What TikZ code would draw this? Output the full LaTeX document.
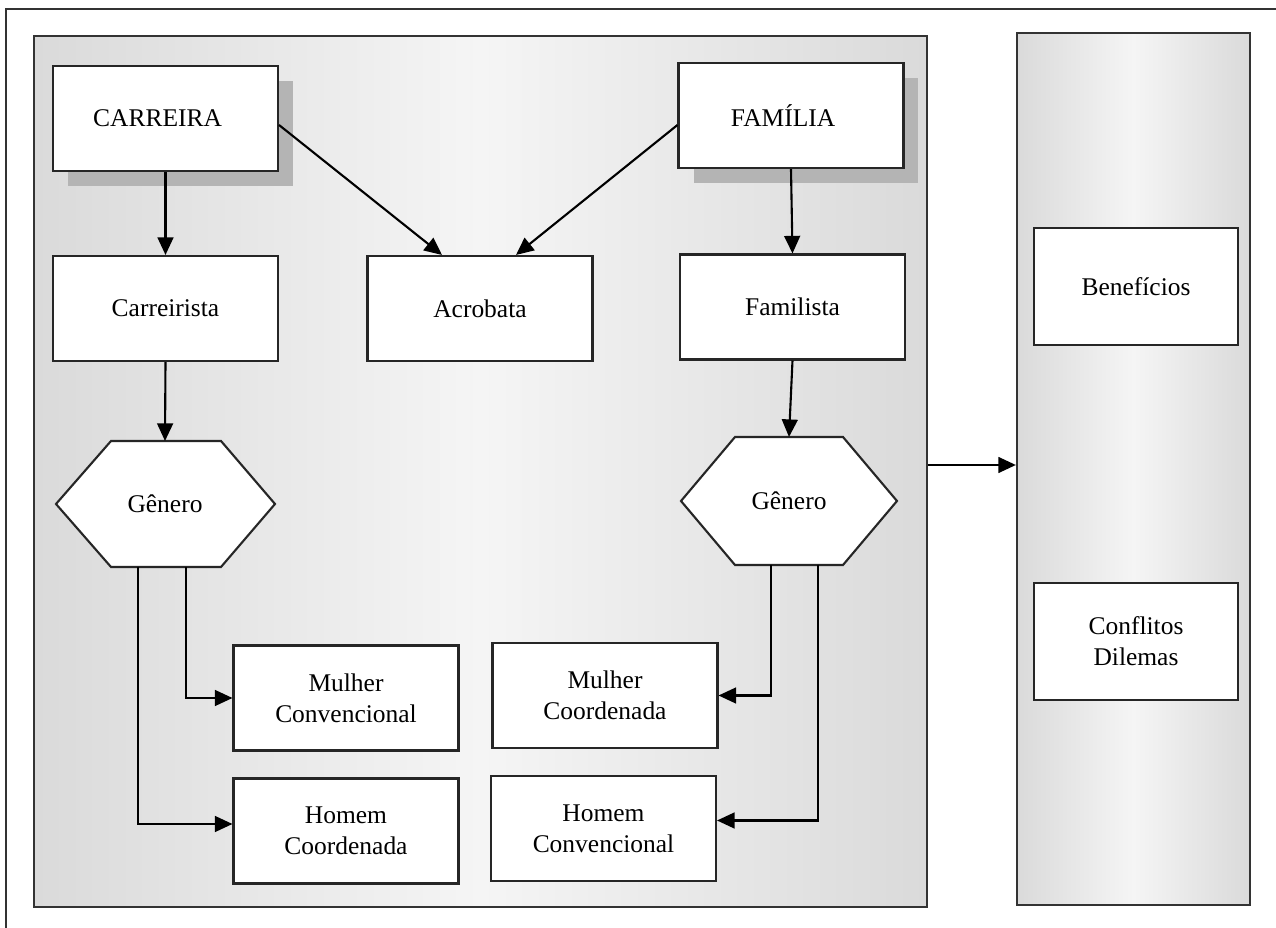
\documentclass[tikz,border=0pt]{standalone}
\usepackage{fontspec}
\setmainfont{Liberation Serif}
\usetikzlibrary{arrows.meta,shadows,calc}
\definecolor{edgegray}{HTML}{DADADA}
\definecolor{midgray}{HTML}{F5F5F5}
\definecolor{shadowgray}{HTML}{B4B4B4}
\definecolor{framegray}{HTML}{333333}
\tikzset{
  box/.style={draw=black!85, line width=1.2pt, fill=white, minimum width=4.5cm, minimum height=2.1cm, align=center, inner sep=2pt, font=\fontsize{14.5}{17.5}\selectfont},
  shbox/.style={box, general shadow={fill=shadowgray, shadow xshift=0.3cm, shadow yshift=-0.3cm}},
  panel/.style={draw=black!80, line width=1.3pt, left color=edgegray, right color=edgegray, middle color=midgray},
  hex/.style={draw=black!85, line width=1.2pt, fill=white},
  lbl/.style={font=\fontsize{14.5}{17.5}\selectfont, inner sep=1pt},
  arr/.style={line width=1.2pt, -{Triangle[length=10pt,width=9pt]}},
}
\begin{document}
\begin{tikzpicture}[x=0.02cm,y=-0.02cm]
\useasboundingbox (0,0) rectangle (1276,928);
\fill[white] (0,0) rectangle (1276,928);
% outer frame (top and left only)
\draw[framegray, line width=1pt] (1276,9) -- (6,9) -- (6,928);
% panels
\node[panel, minimum width=17.86cm, minimum height=17.42cm] (main) at (480.5,471.5) {};
\node[panel, minimum width=4.66cm, minimum height=17.44cm] (side) at (1133.5,469) {};
% top boxes
\node[shbox] (carreira) at (165.5,118.5) {CARREIRA\hspace*{9pt}};
\node[shbox] (familia) at (791,115.5) {FAMÍLIA\hspace*{9pt}};
% second row
\node[box] (carreirista) at (165.5,308.5) {Carreirista};
\node[box] (acrobata) at (480,308.5) {Acrobata};
\node[box] (familista) at (792.5,307) {Familista};
% hexagons
\path[hex] (56,504) -- (111,441) -- (221,441) -- (275,504) -- (221,567) -- (111,567) -- cycle;
\node[lbl] (gen1) at (165,504) {Gênero};
\coordinate (gen1t) at (165,441);
\coordinate (gen1a) at (138,567);
\coordinate (gen1b) at (186,567);
\path[hex] (681,501) -- (735,437) -- (843,437) -- (897,501) -- (843,565) -- (735,565) -- cycle;
\node[lbl] (gen2) at (789,501) {Gênero};
\coordinate (gen2t) at (789,437);
\coordinate (gen2a) at (771,565);
\coordinate (gen2b) at (818,565);
% bottom boxes
\node[box] (mconv) at (346,698) {Mulher\\Convencional};
\node[box] (hcoord) at (346,831) {Homem\\Coordenada};
\node[box] (mcoord) at (605,695.5) {Mulher\\Coordenada};
\node[box] (hconv) at (603.5,828.5) {Homem\\Convencional};
% side boxes
\node[box, minimum width=4.08cm, minimum height=2.34cm] (benef) at (1136,286.5) {Benefícios};
\node[box, minimum width=4.08cm, minimum height=2.34cm] (confl) at (1136,641.5) {Conflitos\\Dilemas};
% connectors
\draw[arr] (carreira.south) -- (carreirista.north);
\draw[arr] (carreira.east |- 0,125) -- ($(acrobata.north)+(-38,0)$);
\draw[arr] (familia.west |- 0,125) -- ($(acrobata.north)+(36,0)$);
\draw[arr] (familia.south) -- (familista.north);
\draw[arr] (carreirista.south) -- (gen1t);
\draw[arr] (familista.south) -- (gen2t);
\draw[arr] (gen1b) |- (mconv.west);
\draw[arr] (gen1a) |- ($(hcoord.west)+(0,-7)$);
\draw[arr] (gen2a) |- (mcoord.east);
\draw[arr] (gen2b) |- ($(hconv.east)+(0,-8)$);
\draw[arr] (main.east |- 0,465) -- (side.west |- 0,465);
\end{tikzpicture}
\end{document}
